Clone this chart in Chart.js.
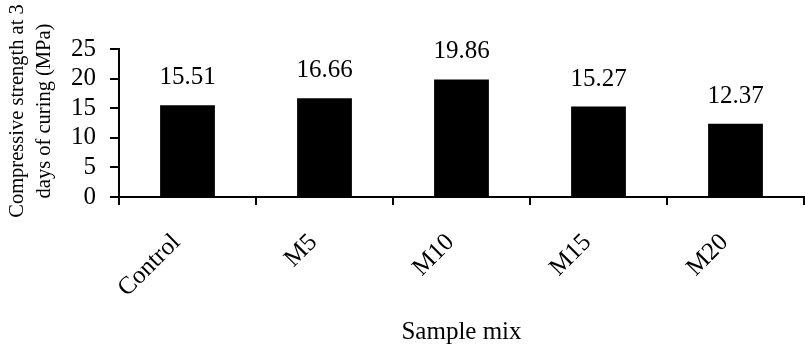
<!DOCTYPE html>
<html>
<head>
<meta charset="utf-8">
<script src="https://cdn.jsdelivr.net/npm/chart.js@4.4.1/dist/chart.umd.min.js"></script>
<style>
  html, body { margin: 0; padding: 0; background: #fff; }
  #wrap { width: 805px; height: 351px; position: relative; }
</style>
</head>
<body>
<div id="wrap"><canvas id="c" width="805" height="351"></canvas></div>
<script>
const categories = ['Control', 'M5', 'M10', 'M15', 'M20'];
const strength3d = [15.51, 16.66, 19.86, 15.27, 12.37];
const yTicks = [0, 5, 10, 15, 20, 25];
const yTitleLines = ['Compressive strength at 3', 'days of curing (MPa)'];
const xTitle = 'Sample mix';

const FONT = "'Liberation Serif', 'Times New Roman', serif";

const valueLabels = {
  id: 'valueLabels',
  afterDatasetsDraw(chart) {
    const ctx = chart.ctx;
    const meta = chart.getDatasetMeta(0);
    ctx.save();
    ctx.font = '25px ' + FONT;
    ctx.fillStyle = '#000';
    ctx.textAlign = 'center';
    ctx.textBaseline = 'alphabetic';
    meta.data.forEach((bar, i) => {
      ctx.fillText(strength3d[i].toFixed(2), bar.x, bar.y - 21);
    });
    ctx.restore();
  }
};

const yTitlePlugin = {
  id: 'yTitlePlugin',
  afterDraw(chart) {
    const ctx = chart.ctx;
    const cy = chart.chartArea.top + 62;
    ctx.save();
    ctx.font = '20.5px ' + FONT;
    ctx.fillStyle = '#000';
    ctx.textAlign = 'center';
    ctx.textBaseline = 'alphabetic';
    const xs = [23, 50];
    yTitleLines.forEach((t, i) => {
      ctx.save();
      ctx.translate(xs[i], cy);
      ctx.rotate(-Math.PI / 2);
      ctx.fillText(t, 0, 0);
      ctx.restore();
    });
    ctx.restore();
  }
};

new Chart(document.getElementById('c'), {
  type: 'bar',
  data: {
    labels: categories,
    datasets: [{
      data: strength3d,
      backgroundColor: '#000',
      borderWidth: 0,
      barPercentage: 0.4,
      categoryPercentage: 1.0
    }]
  },
  options: {
    responsive: false,
    animation: false,
    devicePixelRatio: 1,
    layout: { padding: { top: 49, right: 1, bottom: 0, left: 0 } },
    plugins: { legend: { display: false }, tooltip: { enabled: false } },
    scales: {
      x: {
        grid: { display: true, drawOnChartArea: false, drawTicks: true, tickLength: 8, color: '#000', lineWidth: 2, offset: true },
        border: { display: true, color: '#000', width: 2 },
        ticks: { color: '#000', font: { family: FONT, size: 25 }, maxRotation: 45, minRotation: 45, padding: 23, labelOffset: -11, autoSkip: false },
        title: { display: true, text: xTitle, color: '#000', font: { family: FONT, size: 25 }, padding: { top: 0, bottom: 4 } },
        afterFit(scale) { scale.height = 154; }
      },
      y: {
        min: 0, max: 25,
        afterBuildTicks(scale) { scale.ticks = yTicks.map(v => ({ value: v })); },
        grid: { display: true, drawOnChartArea: false, drawTicks: true, tickLength: 9, color: '#000', lineWidth: 2 },
        border: { display: true, color: '#000', width: 2 },
        ticks: { color: '#000', font: { family: FONT, size: 25 }, padding: 14, autoSkip: false },
        afterFit(scale) { scale.width = 119; }
      }
    }
  },
  plugins: [valueLabels, yTitlePlugin]
});
</script>
</body>
</html>
